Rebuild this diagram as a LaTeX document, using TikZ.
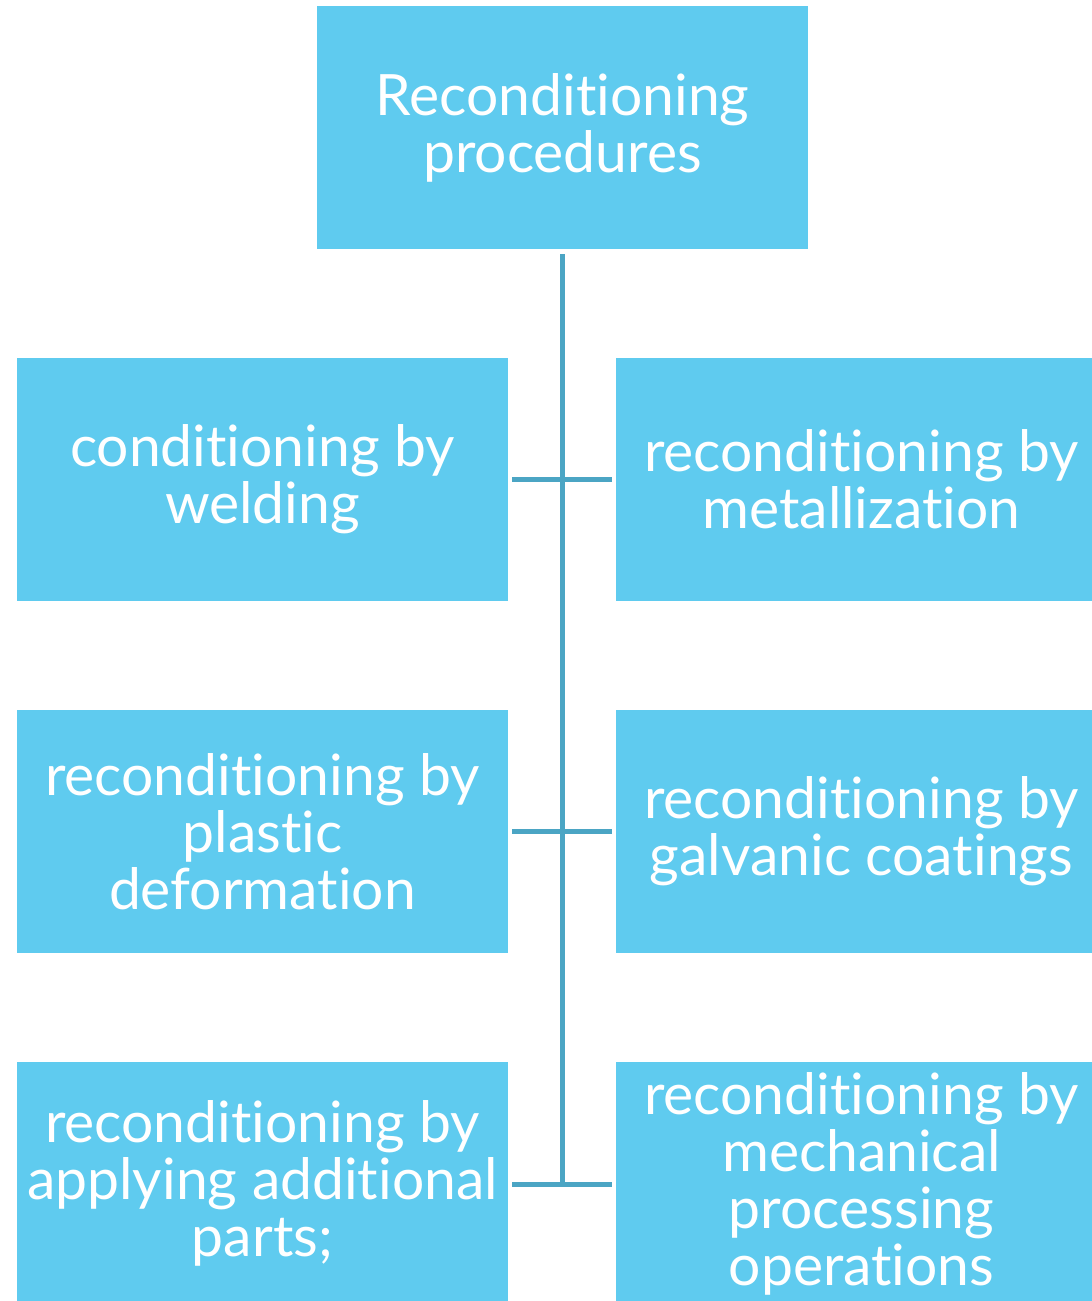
\documentclass[tikz,border=0pt]{standalone}
\usepackage{fontspec}
\setmainfont{Lato}[Ligatures=CommonOff]
\definecolor{boxblue}{RGB}{95,203,239}
\definecolor{linkblue}{RGB}{75,165,196}
\begin{document}
\begin{tikzpicture}[x=1pt,y=-1pt,
  box/.style={fill=boxblue, draw=none, inner sep=0pt, text=white,
    align=center, font=\fontsize{57}{57}\selectfont,
    minimum width=491pt, minimum height=243pt},
  link/.style={draw=linkblue, line width=5pt}]
\useasboundingbox (0,0) rectangle (1092,1301);
% root
\node[box] (root) at (562.5,127.5) {Reconditioning\\procedures};
% left column
\node[box] (l1) at (262.5,479.5) {conditioning by\\welding};
\node[box] (l2) at (262.5,831.5) {reconditioning by\\plastic\\deformation};
\node[box] (l3) at (262.5,1183.5) {reconditioning by\\applying additional\\parts;};
% right column (runs past the right edge)
\node[box] (r1) at (861.5,479.5) {reconditioning by\\metallization};
\node[box] (r2) at (861.5,831.5) {reconditioning by\\galvanic coatings};
\node[box] (r3) at (861.5,1183.5) {reconditioning by\\mechanical\\processing\\operations};
% trunk and branches
\coordinate (top) at ([yshift=-5pt]root.south);
\coordinate (j3) at (562.5,1183);
\draw[link] (top) -- (j3);
\draw[link] ([xshift=4pt]l1.east) -- ([xshift=-4pt]r1.west);
\draw[link] ([xshift=4pt]l2.east) -- ([xshift=-4pt]r2.west);
\draw[link] ([xshift=4pt,yshift=-0.5pt]l3.east) -- ([xshift=-4pt,yshift=-0.5pt]r3.west);
\end{tikzpicture}
\end{document}
